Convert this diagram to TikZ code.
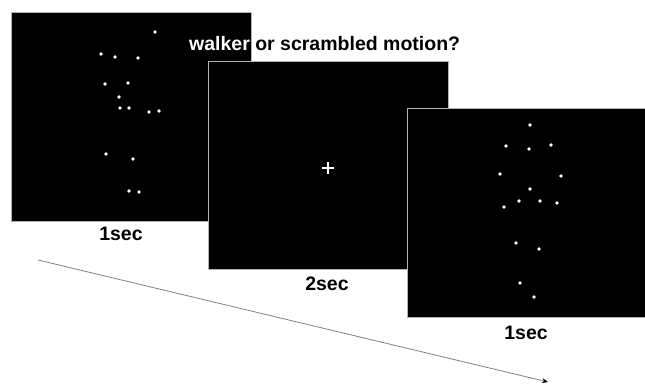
\documentclass[tikz,border=0pt]{standalone}
\usepackage{fontspec}
\setmainfont{Liberation Sans}
\usetikzlibrary{arrows.meta}
\tikzset{
  panel/.style={fill=black,draw=gray!60,line width=1pt},
  dot/.style={fill=white,draw=none},
  lbl/.style={font=\fontsize{19.5}{22}\selectfont\bfseries,inner sep=0pt},
}
\begin{document}
\begin{tikzpicture}[x=1pt,y=-1pt]
\useasboundingbox (0,0) rectangle (645,385);
% panel 1
\draw[panel] (11,13) rectangle (251,221);
\foreach \p in {(155,32),(101,54),(115,57),(138,58),(105,84),(128,83),(119,97),(120,108),(129,108),(149,112),(159,111),(106,154),(133,159),(129,191),(139,192)}
  \fill[dot] \p circle (1.8);
% title
\node[lbl,anchor=base west,text=black] (title) at (189,51) {walker or scrambled motion?};
\begin{scope}
  \clip (11.5,13.5) rectangle (250.5,220.5);
  \node[lbl,anchor=base west,text=white] (titlew) at (189,51) {walker or scrambled motion?};
\end{scope}
% panel 2
\draw[panel] (208,62) rectangle (448,269);
\draw[white,line width=1.8pt] (322,168) -- (334,168) (328,162) -- (328,174);
% panel 3
\draw[panel] (407,109) rectangle (646,317);
\foreach \p in {(530,125),(506,146),(529,149),(551,145),(500,174),(561,176),(530,189),(519,201),(540,201),(557,203),(504,207),(516,243),(539,249),(520,283),(534,297)}
  \fill[dot] \p circle (1.8);
% labels
\node[lbl] (l1) at (121,234) {1sec};
\node[lbl] (l2) at (327,284) {2sec};
\node[lbl] (l3) at (526,333) {1sec};
% time arrow
\coordinate (a0) at (38,260);
\coordinate (a1) at (548,382);
\draw[gray,line width=0.8pt,-{Stealth[black,length=6pt,width=5pt]}] (a0) -- (a1);
\end{tikzpicture}
\end{document}
